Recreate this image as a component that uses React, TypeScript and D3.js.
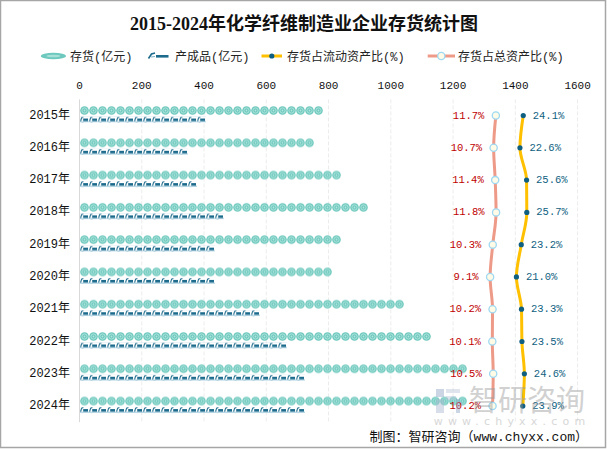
import React from 'react';
import * as d3 from 'd3';

const years = ['2015年', '2016年', '2017年', '2018年', '2019年', '2020年', '2021年', '2022年', '2023年', '2024年'];
const inventory = [792, 756, 847, 917, 837, 808, 1039, 1132, 1254, 1250];
const finished = [396, 344, 376, 464, 433, 443, 573, 658, 711, 719];
const currentRatio = [24.1, 22.6, 25.6, 25.7, 23.2, 21.0, 23.3, 23.5, 24.6, 23.9];
const totalRatio = [11.7, 10.7, 11.4, 11.8, 10.3, 9.1, 10.2, 10.1, 10.5, 10.2];
const xTicks = [0, 200, 400, 600, 800, 1000, 1200, 1400, 1600];

const W = 607;
const H = 449;
const MONO = "'Liberation Mono', 'Noto Sans CJK SC', sans-serif";
const TITLE_FONT = "'Liberation Serif', 'Noto Sans CJK SC', serif";

export default function App() {
  const x = d3.scaleLinear().domain([0, 1600]).range([79.5, 577.6]);
  const x2 = d3.scaleLinear().domain([0, 50]).range([470, 580.5]);
  const y = d3.scaleBand<string>().domain(years).range([99.4, 422.2]).padding(0);
  const cy = (d: string) => (y(d) as number) + y.bandwidth() / 2;

  const lineGen = d3
    .line<[number, number]>()
    .x((d) => d[0])
    .y((d) => d[1])
    .curve(d3.curveMonotoneY);

  const curPts: [number, number][] = years.map((d, i) => [x2(currentRatio[i]), cy(d)]);
  const totPts: [number, number][] = years.map((d, i) => [x2(totalRatio[i]), cy(d)]);

  const sym = 9;

  return (
    <div style={{ position: 'fixed', left: 0, top: 0, width: W, height: H }}>
      <svg width={W} height={H} style={{ display: 'block', background: '#fff' }}>
        <defs>
          <pattern id="invPat" patternUnits="userSpaceOnUse" width={sym} height={9}>
            <circle cx={4.5} cy={4.5} r={4.3} fill="#6dc8bd" />
            <circle cx={4.5} cy={4.5} r={2.6} fill="none" stroke="#b3e6df" strokeWidth={0.9} />
            <circle cx={4.5} cy={4.5} r={0.9} fill="#b3e6df" />
          </pattern>
          <pattern id="finPat" patternUnits="userSpaceOnUse" width={sym} height={6}>
            <rect x={0} y={4.6} width={9} height={1.2} fill="#a9cfe0" />
            <path d="M0.6,4.6 L1.6,1.2 L3.4,0.6" fill="none" stroke="#1d6b8c" strokeWidth={1.1} />
            <rect x={3.2} y={2} width={4.8} height={2.6} fill="#1d6b8c" />
          </pattern>
        </defs>

        <rect x={0.5} y={0.5} width={W - 2} height={H - 2} fill="#fff" stroke="#a6a6a6" strokeWidth={1.5} />

        {/* title */}
        <text x={304} y={30} textAnchor="middle" fontFamily={TITLE_FONT} fontWeight="bold" fontSize={18} fill="#111">
          2015-2024年化学纤维制造业企业存货统计图
        </text>

        {/* legend */}
        <g fontFamily={MONO} fontSize={12} fill="#222">
          <ellipse cx={53.4} cy={56} rx={12.6} ry={3.3} fill="#6dc8bd" />
          <ellipse cx={53.4} cy={56} rx={7} ry={1.3} fill="#a8e0d8" />
          <text x={70} y={60.5}>存货(亿元)</text>

          <path d="M148.5,58.5 L151.5,54 L155,53" fill="none" stroke="#1d6b8c" strokeWidth={1.6} />
          <path d="M151,57 L155,56.5" stroke="#7fb1c8" strokeWidth={1.2} />
          <rect x={156} y={55} width={12.5} height={2.6} fill="#1d6b8c" />
          <text x={175} y={60.5}>产成品(亿元)</text>

          <line x1={261.5} x2={282} y1={56} y2={56} stroke="#ffc000" strokeWidth={3} />
          <circle cx={271.8} cy={56} r={2.6} fill="#0f5f82" />
          <text x={287} y={60.5}>存货占流动资产比(%)</text>

          <line x1={427.7} x2={455} y1={56} y2={56} stroke="#ee9a88" strokeWidth={3} />
          <circle cx={441.3} cy={56} r={3.6} fill="#fffbe6" stroke="#9ed8f2" strokeWidth={1.3} />
          <text x={458} y={60.5}>存货占总资产比(%)</text>
        </g>

        {/* x tick labels */}
        <g fontFamily={MONO} fontSize={11} fill="#111">
          {xTicks.map((t) => (
            <text key={t} x={x(t)} y={89} textAnchor="middle">
              {t}
            </text>
          ))}
        </g>

        {/* gridlines */}
        {xTicks.slice(1).map((t) => (
          <line key={t} x1={x(t)} x2={x(t)} y1={99.4} y2={422.2} stroke="#ececec" strokeWidth={1} strokeDasharray="4,2" />
        ))}
        <line x1={x(0)} x2={x(0)} y1={99.4} y2={422.2} stroke="#d9d9d9" strokeWidth={1} />

        {/* row labels */}
        <g fontFamily={MONO} fontSize={12} fill="#111">
          {years.map((d) => (
            <text key={d} x={70} y={cy(d)} textAnchor="end" dominantBaseline="central">
              {d}
            </text>
          ))}
        </g>

        {/* bars */}
        {years.map((d, i) => {
          const wInv = Math.round((x(inventory[i]) - x(0)) / sym) * sym;
          const wFin = Math.round((x(finished[i]) - x(0)) / sym) * sym;
          return (
            <g key={d}>
              <g transform={`translate(${x(0) + 0.5},${cy(d) - 9.5})`}>
                <rect x={0} y={0} width={wInv} height={9} fill="url(#invPat)" />
              </g>
              <g transform={`translate(${x(0) + 0.5},${cy(d) + 1})`}>
                <rect x={0} y={0} width={wFin} height={6} fill="url(#finPat)" />
              </g>
            </g>
          );
        })}

        {/* lines */}
        <path d={lineGen(totPts) || ''} fill="none" stroke="#ee9a88" strokeWidth={3} />
        <path d={lineGen(curPts) || ''} fill="none" stroke="#ffc000" strokeWidth={3} />

        {totPts.map((p, i) => (
          <circle key={'t' + i} cx={p[0]} cy={p[1]} r={3.6} fill="#fffbe6" stroke="#9ed8f2" strokeWidth={1.3} />
        ))}
        {curPts.map((p, i) => (
          <circle key={'c' + i} cx={p[0]} cy={p[1]} r={2.6} fill="#0f5f82" />
        ))}

        <g fontFamily={MONO} fontSize={10.5}>
          {totPts.map((p, i) => (
            <text key={'tl' + i} x={p[0] - 11.5} y={p[1]} textAnchor="end" dominantBaseline="central" fill="#c00000">
              {totalRatio[i].toFixed(1) + '%'}
            </text>
          ))}
          {curPts.map((p, i) => (
            <text key={'cl' + i} x={p[0] + 9.5} y={p[1]} dominantBaseline="central" fill="#0f5f82">
              {currentRatio[i].toFixed(1) + '%'}
            </text>
          ))}
        </g>

        {/* watermark */}
        <g opacity={0.45}>
          <rect x={436} y={389} width={8} height={8} fill="#8da3c4" />
          <rect x={436} y={399} width={8} height={14} fill="#a9b8cf" />
          <rect x={446} y={389} width={14} height={4} fill="#b9c5d8" />
          <rect x={446} y={396} width={10} height={4} fill="#b9c5d8" />
          <rect x={456} y={399} width={4} height={14} fill="#8da3c4" />
          <text x={527} y={411} textAnchor="middle" fontFamily="'Noto Sans CJK SC', sans-serif" fontSize={29} fill="#9a9a9a">
            智研咨询
          </text>
          <text x={512} y={425} textAnchor="middle" fontFamily="'DejaVu Sans', sans-serif" fontSize={11} letterSpacing={5.2} fill="#a8a8a8">
            www.chyxx.com
          </text>
        </g>

        {/* footer */}
        <text x={588} y={441} textAnchor="end" fontFamily={MONO} fontSize={13} fill="#111">
          制图：智研咨询（www.chyxx.com）
        </text>
      </svg>
    </div>
  );
}
